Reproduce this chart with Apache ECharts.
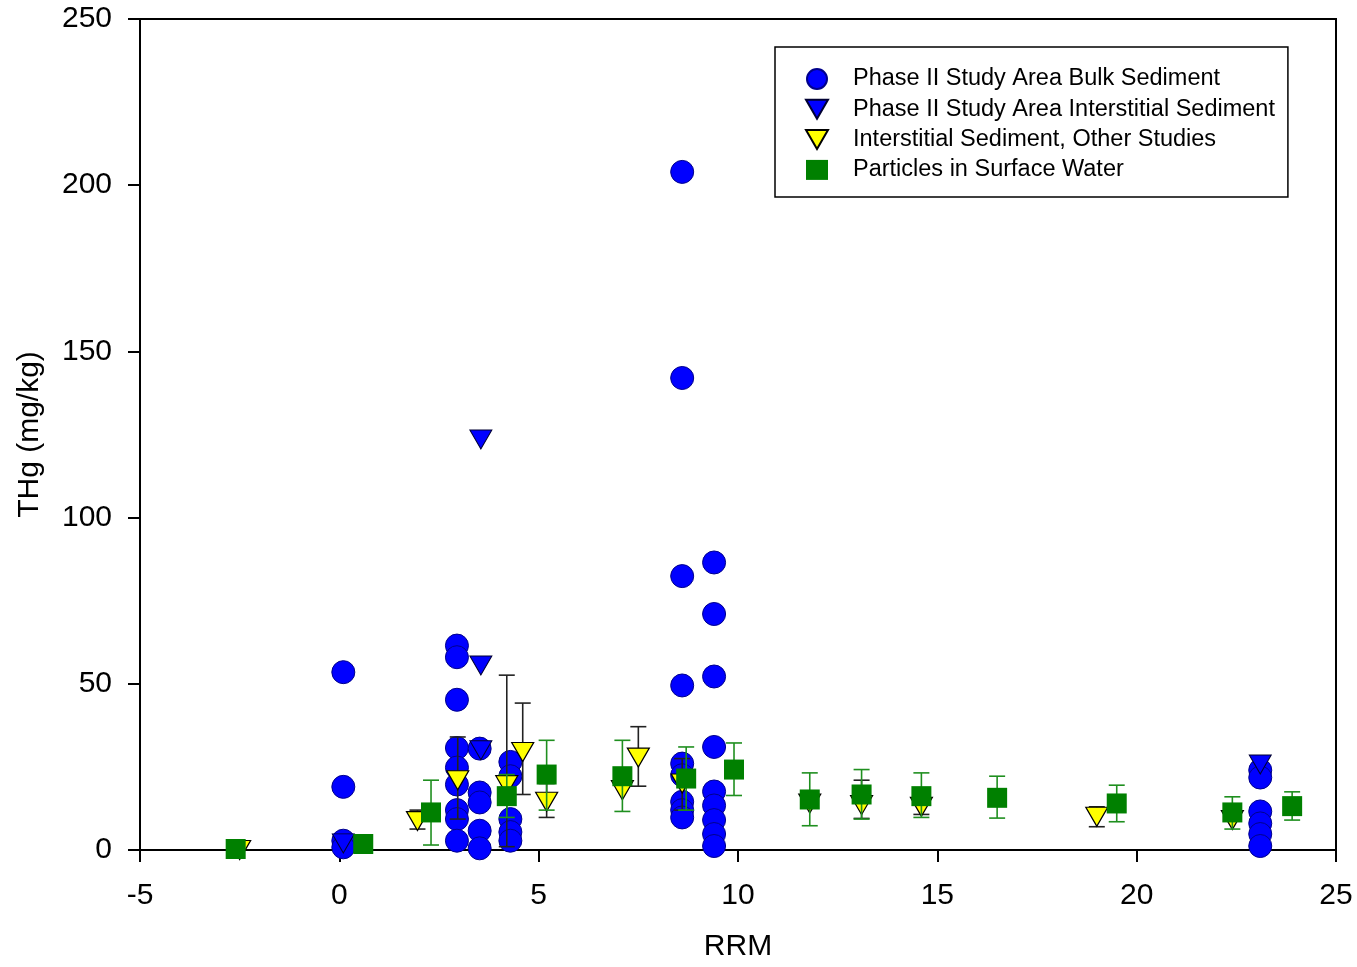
<!DOCTYPE html>
<html>
<head>
<meta charset="utf-8">
<script src="https://cdn.jsdelivr.net/npm/echarts@6/dist/echarts.min.js"></script>
<style>html,body{margin:0;padding:0;background:#fff;}#c{width:1357px;height:967px;}</style>
</head>
<body>
<div id="c"></div>
<script>
// ---- data ----
const bulkRRM = [0.1,0.1,0.1,0.1,
  2.95,2.95,2.95,2.95,2.95,2.95,2.95,2.95,2.95,
  3.52,3.52,3.52,3.52,3.52,
  4.29,4.29,4.29,4.29,4.29,
  8.6,8.6,8.6,8.6,8.6,8.6,8.6,8.6,8.6,
  9.4,9.4,9.4,9.4,9.4,9.4,9.4,9.4,9.4,
  23.1,23.1,23.1,23.1,23.1,23.1];
const bulkTHg = [53.5,19,2.8,0.8,
  61.5,58,45.2,30.7,24.8,19.7,12,9.3,2.8,
  30.5,17.3,14.3,5.8,0.5,
  26.5,22.2,9.3,5.4,2.8,
  204,142,82.4,49.5,26,22.5,14.5,12,9.8,
  86.5,71,52.2,31,17.6,13.4,9,4.8,1.2,
  24,21.8,11.6,8,4.8,1.2];

const p2IntRRM = [0.1,3.55,3.55,3.55,23.1];
const p2IntTHg = [2,123.5,55.5,30,25.7];

const otherRRM = [-2.5,1.96,2.97,4.2,4.6,5.2,7.1,7.5,8.6,11.8,13.1,14.6,19.0,22.4];
const otherTHg = [0,8.7,21,19.5,29.5,14.5,18,27.8,20,14,13.5,13,10,9];
const otherLo  = [null,6.3,9.3,1,16.7,9.8,null,19.2,12,null,9.5,10.7,7,null];
const otherHi  = [null,12,34,52.6,44.2,20,null,37.1,27.5,null,21,15,13,null];

const waterRRM = [-2.6,0.6,2.3,4.2,5.2,7.1,8.7,9.9,11.8,13.1,14.6,16.5,19.5,22.4,23.9];
const waterTHg = [0.3,1.8,11.3,16.2,22.7,22.2,21.5,24.2,15.2,16.7,16.2,15.7,14,11.3,13.2];
const waterLo  = [null,null,1.5,9.8,12,11.6,12,16.4,7.3,9.3,9.8,9.6,8.5,6.3,9];
const waterHi  = [null,null,21,22.7,33,33,31,32.2,23.2,24.2,23.2,22.2,19.5,16,17.5];

const seriesNames = ['Phase II Study Area Bulk Sediment','Phase II Study Area Interstitial Sediment','Interstitial Sediment, Other Studies','Particles in Surface Water'];
const xTicks = {min:-5,max:25,interval:5};
const yTicks = {min:0,max:250,interval:50};

// ---- helpers ----
const zip = (a,b) => a.map((v,i)=>[v,b[i]]);
const errData = (x,lo,hi) => x.map((v,i)=>[v,lo[i],hi[i]]).filter(d=>d[1]!=null);
const triDown = 'path://M0,0L20,0L10,17.3Z';
function errSeries(data,color){
  return {
    type:'custom', data:data, encode:{x:0,y:[1,2]}, silent:true, z:2,
    renderItem:function(params,api){
      const x=api.value(0), lo=api.coord([x,api.value(1)]), hi=api.coord([x,api.value(2)]);
      const w=8, st={stroke:color,lineWidth:1.6};
      return {type:'group',children:[
        {type:'line',shape:{x1:lo[0],y1:lo[1],x2:hi[0],y2:hi[1]},style:st},
        {type:'line',shape:{x1:lo[0]-w,y1:lo[1],x2:lo[0]+w,y2:lo[1]},style:st},
        {type:'line',shape:{x1:hi[0]-w,y1:hi[1],x2:hi[0]+w,y2:hi[1]},style:st}
      ]};
    }
  };
}

const chart = echarts.init(document.getElementById('c'));
const font = 'Liberation Sans, Arial, sans-serif';
chart.setOption({
  backgroundColor:'#fff',
  animation:false,
  grid:{left:140,right:21,top:19,bottom:112,show:true,borderColor:'#000',borderWidth:2,backgroundColor:'transparent'},
  xAxis:{type:'value',min:xTicks.min,max:xTicks.max,interval:xTicks.interval,
    name:'RRM',nameLocation:'middle',nameGap:82,
    nameTextStyle:{fontSize:30,color:'#000',fontFamily:font},
    axisLine:{onZero:false,lineStyle:{color:'#000',width:2}},
    axisTick:{show:true,inside:false,length:12,lineStyle:{color:'#000',width:2}},
    axisLabel:{fontSize:30,color:'#000',fontFamily:font,margin:31},
    splitLine:{show:false}},
  yAxis:{type:'value',min:yTicks.min,max:yTicks.max,interval:yTicks.interval,
    name:'THg (mg/kg)',nameLocation:'middle',nameGap:95,
    nameTextStyle:{fontSize:30,color:'#000',fontFamily:font},
    axisLine:{show:true,onZero:false,lineStyle:{color:'#000',width:2}},
    axisTick:{show:true,inside:false,length:12,lineStyle:{color:'#000',width:2}},
    axisLabel:{fontSize:30,color:'#000',fontFamily:font,margin:28},
    splitLine:{show:false}},
  legend:{
    data:[
      {name:seriesNames[0],icon:'circle'},
      {name:seriesNames[1],icon:triDown},
      {name:seriesNames[2],icon:triDown},
      {name:seriesNames[3],icon:'rect'}],
    orient:'vertical',left:775,top:47,
    padding:[20,13,15,30],itemGap:6.3,itemWidth:22,itemHeight:20,
    borderColor:'#000',borderWidth:1.5,backgroundColor:'#fff',
    textStyle:{fontSize:23.5,lineHeight:20,color:'#000',fontFamily:font,padding:[0,0,0,20]},
    selectedMode:false
  },
  series:[
    {name:seriesNames[0],type:'scatter',data:zip(bulkRRM,bulkTHg),symbol:'circle',symbolSize:23,z:3,
      itemStyle:{color:'#0000ff',borderColor:'#00008b',borderWidth:1,opacity:1}},
    {name:seriesNames[1],type:'scatter',data:zip(p2IntRRM,p2IntTHg),symbol:triDown,symbolSize:[22,19],z:4,
      itemStyle:{color:'#0000ff',borderColor:'#000033',borderWidth:1,opacity:1}},
    Object.assign(errSeries(errData(otherRRM,otherLo,otherHi),'#222'),{z:5}),
    {name:seriesNames[2],type:'scatter',data:zip(otherRRM,otherTHg),symbol:triDown,symbolSize:[22,19],z:6,
      itemStyle:{color:'#ffff00',borderColor:'#000',borderWidth:1.2,opacity:1}},
    Object.assign(errSeries(errData(waterRRM,waterLo,waterHi),'#1f8f1f'),{z:7}),
    {name:seriesNames[3],type:'scatter',data:zip(waterRRM,waterTHg),symbol:'rect',symbolSize:20,z:8,
      itemStyle:{color:'#008000',opacity:1}}
  ]
});
</script>
</body>
</html>
